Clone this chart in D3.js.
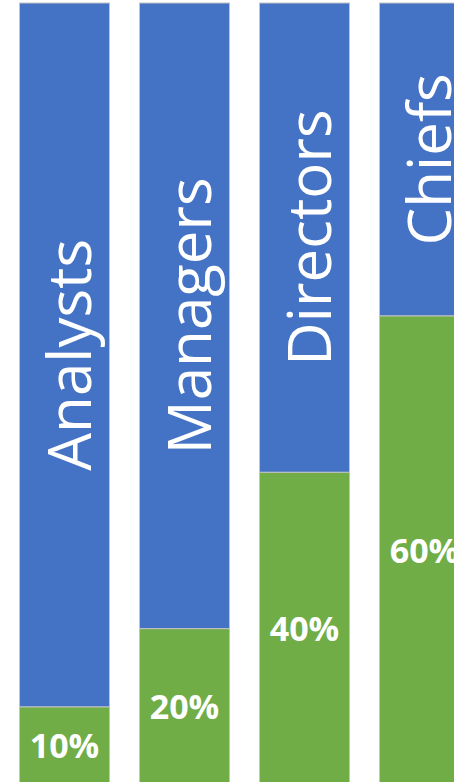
<!DOCTYPE html>
<html>
<head>
<meta charset="utf-8">
<script src="https://cdn.jsdelivr.net/npm/d3@7"></script>
<style>
  html, body { margin: 0; padding: 0; background: #fff; overflow: hidden; }
  svg { display: block; }
</style>
</head>
<body>
<div id="chart"></div>
<script>
const categories = ['Analysts', 'Managers', 'Directors', 'Chiefs'];
const greenShare = [10, 20, 40, 60];
const blueShare = [90, 80, 60, 40];
const valueLabels = ['10%', '20%', '40%', '60%'];

const WIDTH = 454, HEIGHT = 782;
const BLUE = '#4472c4', GREEN = '#70ad47', EDGE = '#c4c4c4';

const rows = categories.map((c, i) => ({ cat: c, green: greenShare[i], blue: blueShare[i], label: valueLabels[i] }));

const svg = d3.select('#chart').append('svg')
  .attr('width', WIDTH)
  .attr('height', HEIGHT);

// chiefs runs off the right edge, so the band range goes past the window
const x = d3.scaleBand()
  .domain(categories)
  .range([19.5, 19.5 + 4 * 120 - 30])
  .paddingInner(0.25)
  .paddingOuter(0);

// zero sits just below the bottom of the window
const y = d3.scaleLinear()
  .domain([0, 100])
  .range([785, 3]);

const stack = d3.stack().keys(['green', 'blue']);
const series = stack(rows);
const fills = { green: GREEN, blue: BLUE };

const groups = svg.selectAll('g.series')
  .data(series)
  .enter().append('g')
  .attr('class', 'series')
  .attr('fill', d => fills[d.key]);

groups.selectAll('rect')
  .data(d => d)
  .enter().append('rect')
  .attr('x', d => x(d.data.cat))
  .attr('width', x.bandwidth())
  .attr('y', d => y(d[1]))
  .attr('height', d => y(d[0]) - y(d[1]))
  .attr('stroke', EDGE)
  .attr('stroke-width', 1);

// category names, rotated, centred in the blue part
svg.selectAll('text.cat')
  .data(series[1])
  .enter().append('text')
  .attr('class', 'cat')
  .attr('transform', d => {
    const cx = x(d.data.cat) + x.bandwidth() / 2;
    const cy = (y(d[0]) + y(d[1])) / 2;
    return 'translate(' + cx + ',' + cy + ') rotate(-90)';
  })
  .attr('text-anchor', 'middle')
  .attr('y', 26)
  .attr('fill', '#fff')
  .style('font-family', '"Open Sans", "Noto Sans", sans-serif')
  .style('font-size', '60px')
  .text(d => d.data.cat);

// percentages, centred in the green part
svg.selectAll('text.pct')
  .data(series[0])
  .enter().append('text')
  .attr('class', 'pct')
  .attr('x', d => x(d.data.cat) + x.bandwidth() / 2)
  .attr('y', d => (y(d[0]) + y(d[1])) / 2)
  .attr('dy', '0.36em')
  .attr('text-anchor', 'middle')
  .attr('fill', '#fff')
  .style('font-family', '"Open Sans", "Noto Sans", sans-serif')
  .style('font-weight', 700)
  .style('font-size', '34px')
  .text(d => d.data.label);
</script>
</body>
</html>
